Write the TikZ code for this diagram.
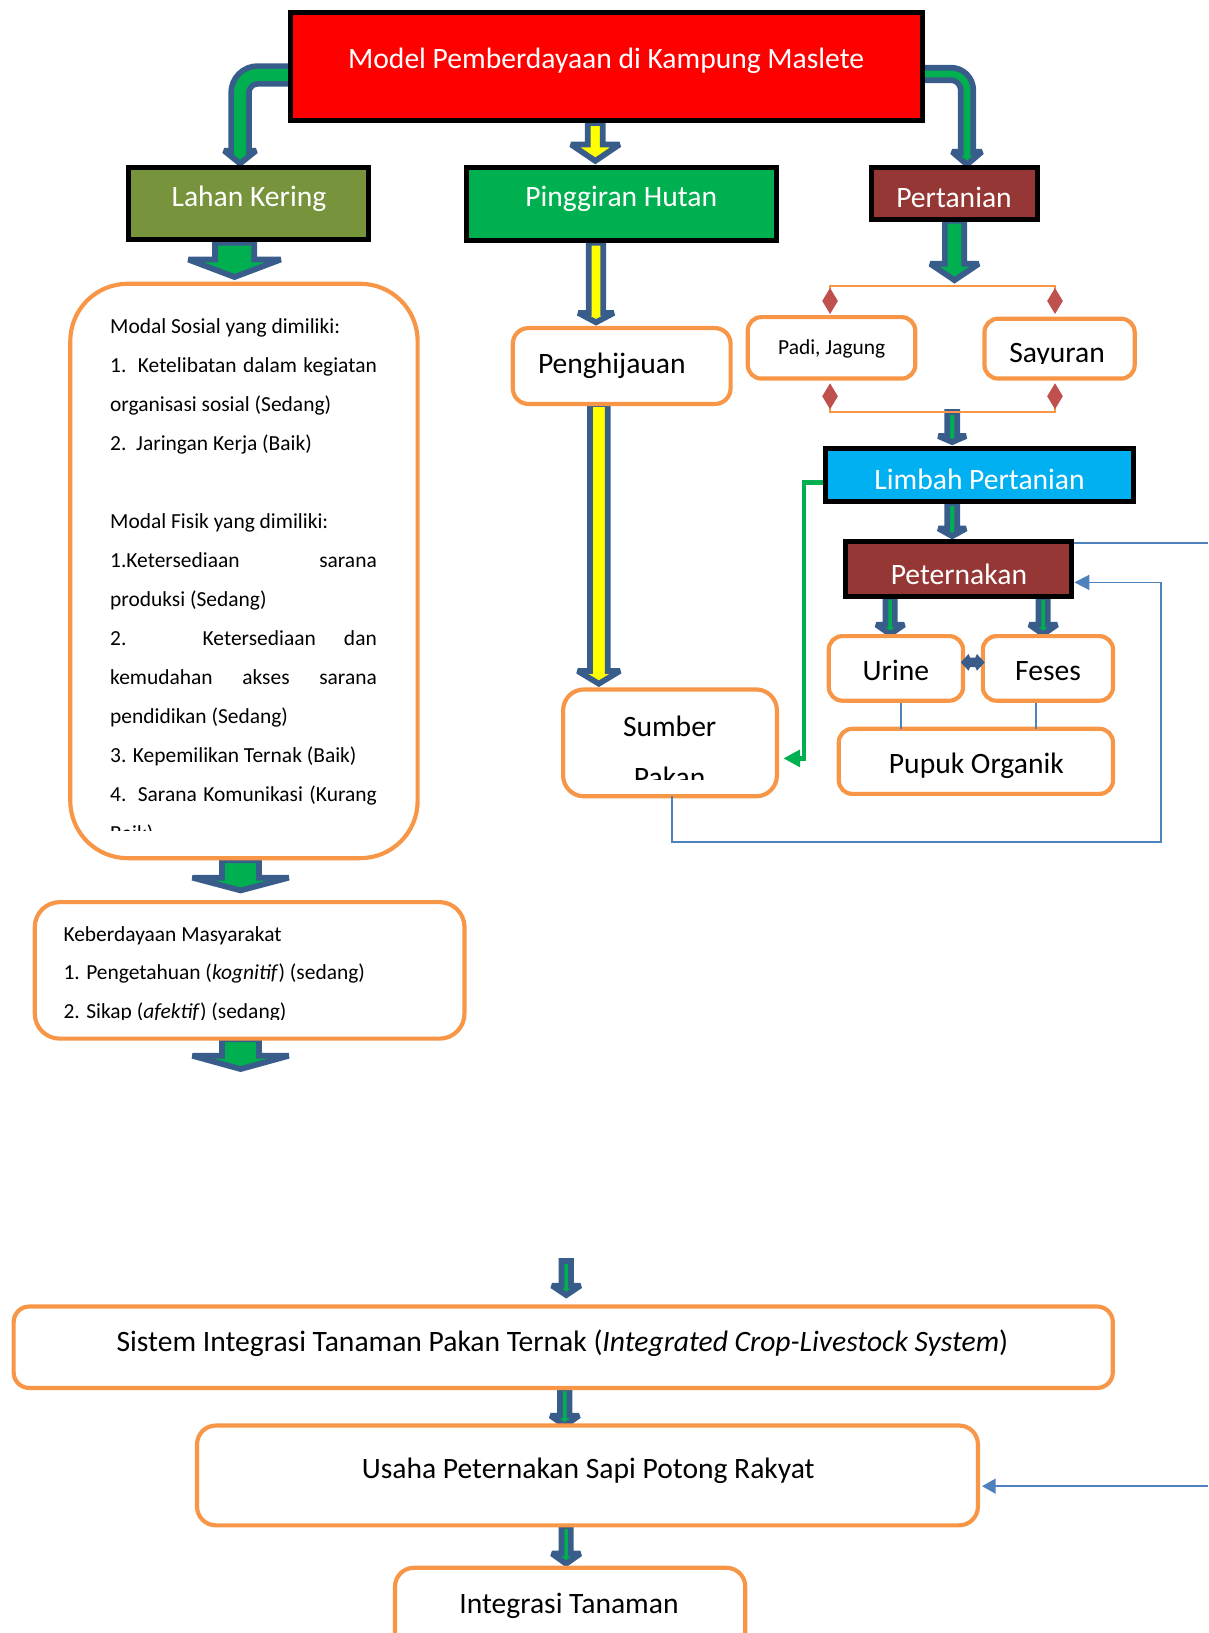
\documentclass[tikz,border=0pt]{standalone}
\usepackage{fontspec}
\setmainfont{Carlito}
\usetikzlibrary{arrows.meta}
\definecolor{titlered}{HTML}{FF0000}
\definecolor{olive}{HTML}{77933C}
\definecolor{fgreen}{HTML}{00B050}
\definecolor{darkred}{HTML}{953735}
\definecolor{cyanbox}{HTML}{00B0F0}
\definecolor{boxorange}{HTML}{F79646}
\definecolor{arrowblue}{HTML}{385D8A}
\definecolor{lineblue}{HTML}{4F81BD}
\definecolor{diared}{HTML}{C0504D}
\definecolor{ayellow}{HTML}{FFFF00}
\newcommand\bigfont{\fontsize{28.4}{34}\selectfont}
\newcommand\smallfont{\fontsize{20.6}{37.45}\selectfont}
% x, top, head base, tip, shaft half, head half, fill
\newcommand\blockarrow[7]{\filldraw[barrow,fill=#7] (#1-#5,#2) -- (#1+#5,#2) -- (#1+#5,#3) -- (#1+#6,#3) -- (#1,#4) -- (#1-#6,#3) -- (#1-#5,#3) -- cycle;}
\newcommand\diamondmark[2]{\fill[diared] (#1,#2-12.5) -- (#1+7.5,#2) -- (#1,#2+12.5) -- (#1-7.5,#2) -- cycle;}
\tikzset{
  barrow/.style={draw=arrowblue, line width=5.5pt, line join=miter, miter limit=2},
  blackbox/.style={draw=black, line width=4.8pt, inner sep=0pt, rectangle},
  obox/.style={draw=boxorange, line width=4pt, fill=white, inner sep=0pt, rectangle},
  wtext/.style={text=white, font=\bigfont, anchor=base, inner sep=0pt},
  btext/.style={text=black, font=\bigfont, anchor=base, inner sep=0pt},
  stext/.style={text=black, font=\smallfont, anchor=base, inner sep=0pt},
  thinblue/.style={draw=lineblue, line width=1.6pt},
  thinorange/.style={draw=boxorange, line width=1.6pt},
  greenlink/.style={draw=fgreen, line width=4.5pt, line join=miter},
}
\begin{document}
\begin{tikzpicture}[x=1pt,y=-1pt]
\useasboundingbox (0,0) rectangle (1160,1568);
\clip (0,0) rectangle (1160,1568);

% ---------- block arrows (behind the boxes) ----------
% bent arrows from the title
\draw[arrowblue, line width=22.5pt, rounded corners=17pt] (282,72) -- (230.5,72) -- (230.5,146);
\blockarrow{230.5}{146}{144.75}{157}{8.5}{15.25}{fgreen}
\draw[fgreen, line width=11.5pt, rounded corners=17pt] (282,72) -- (230.5,72) -- (230.5,149);
\draw[arrowblue, line width=17.5pt, rounded corners=15.5pt] (880,71) -- (928.5,71) -- (928.5,147);
\blockarrow{928.5}{147}{145.75}{158}{6}{14.25}{fgreen}
\draw[fgreen, line width=6.5pt, rounded corners=15.5pt] (880,71) -- (928.5,71) -- (928.5,150);

\blockarrow{571.6}{118}{138.75}{154.5}{7.25}{23.25}{ayellow}
\blockarrow{572.3}{233}{300.5}{309.5}{7}{17}{ayellow}
\blockarrow{575}{388}{644.25}{656.5}{8.45}{20.25}{ayellow}
\blockarrow{225.2}{233}{249.25}{266}{18.85}{44.3}{fgreen}
\blockarrow{916.5}{212}{253.35}{269}{9.25}{23.25}{fgreen}
\blockarrow{231}{826}{842.75}{855}{17.75}{46.25}{fgreen}
\blockarrow{231}{998}{1013.75}{1026.5}{17.75}{46.25}{fgreen}
\blockarrow{914.3}{395.6}{418.75}{424.5}{4.75}{13.25}{fgreen}
\blockarrow{914.3}{483}{507.5}{514.8}{4.75}{13.25}{fgreen}
\blockarrow{854.8}{573}{599.75}{609}{4.45}{13.35}{fgreen}
\blockarrow{1001.7}{573}{599.75}{609}{4.45}{13.35}{fgreen}
\blockarrow{543.7}{1210.75}{1234.45}{1243.5}{4.55}{13.65}{fgreen}
\blockarrow{542.3}{1333}{1359.25}{1369}{4.55}{13.65}{fgreen}
\blockarrow{543.6}{1465.5}{1491.75}{1501.5}{4.55}{13.65}{fgreen}

% green link Limbah -> Sumber Pakan
\coordinate (glstart) at (796,463.5);
\coordinate (glcorner) at (772,463.5);
\coordinate (glend) at (752.2,728.2);
\draw[greenlink, -{Triangle[length=16pt,width=16pt]}] (glstart) -- (glcorner) |- (glend);

% ---------- coloured header boxes ----------
\node[blackbox, fill=titlered, minimum width=607pt, minimum height=104pt] (title) at (582,64) {};
\node[wtext] (titletext) at (582,66) {Model Pemberdayaan di Kampung Maslete};
\node[blackbox, fill=olive, minimum width=230.6pt, minimum height=68.8pt] (lahan) at (238.7,195.2) {};
\node[wtext] (lahantext) at (239,198) {Lahan Kering};
\node[blackbox, fill=fgreen, minimum width=297.4pt, minimum height=69.8pt] (hutan) at (596.9,195.7) {};
\node[wtext] (hutantext) at (596.5,198) {Pinggiran Hutan};
\node[blackbox, fill=darkred, minimum width=159.7pt, minimum height=49.7pt] (pertanian) at (916.2,185.6) {};
\node[wtext] (pertaniantext) at (916,199.5) {Pertanian};
\node[blackbox, fill=cyanbox, minimum width=295pt, minimum height=51.5pt] (limbah) at (940.5,456.1) {};
\node[wtext] (limbahtext) at (940.6,470) {Limbah Pertanian};
\node[blackbox, fill=darkred, minimum width=217.6pt, minimum height=52.5pt] (peternakan) at (920.4,546.5) {};
\node[wtext] (peternakantext) at (920.7,561.5) {Peternakan};

% ---------- orange rounded boxes ----------
\node[obox, rounded corners=55pt, minimum width=333.5pt, minimum height=551.5pt] (modal) at (234.25,548.25) {};
\node[obox, rounded corners=24pt, minimum width=412.6pt, minimum height=131.1pt] (keber) at (239.7,931.75) {};
\node[obox, rounded corners=15pt, minimum width=209.1pt, minimum height=72.9pt] (hijau) at (596.95,351.45) {};
\node[btext] (hijautext) at (587.5,358.9) {Penghijauan};
\node[obox, rounded corners=20pt, minimum width=205.3pt, minimum height=102.6pt] (sumber) at (643.35,713.3) {};
\node[obox, rounded corners=13pt, minimum width=160.8pt, minimum height=59pt] (padi) at (798.4,334) {};
\node[stext] (paditext) at (798.6,340) {Padi, Jagung};
\node[obox, rounded corners=13pt, minimum width=144.2pt, minimum height=57.5pt] (sayur) at (1017.4,334.75) {};
\node[obox, rounded corners=13pt, minimum width=128.9pt, minimum height=62pt] (urine) at (860.25,641.8) {};
\node[btext] (urinetext) at (860.2,653.4) {Urine};
\node[obox, rounded corners=13pt, minimum width=125pt, minimum height=62pt] (feses) at (1006.2,641.8) {};
\node[btext] (fesestext) at (1006.3,653.4) {Feses};
\node[obox, rounded corners=13pt, minimum width=263.3pt, minimum height=62.5pt] (pupuk) at (937.05,731.05) {};
\node[btext] (pupuktext) at (937.5,742.5) {Pupuk Organik};
\node[obox, rounded corners=15pt, minimum width=1055.4pt, minimum height=78.2pt] (sistem) at (540.8,1293.6) {};
\node[btext] (sistemtext) at (540,1297.5) {Sistem Integrasi Tanaman Pakan Ternak (\textit{Integrated Crop-Livestock System})};
\node[obox, rounded corners=18pt, minimum width=749.8pt, minimum height=95.8pt] (usaha) at (564.1,1416.7) {};
\node[btext] (usahatext) at (564.8,1419.3) {Usaha Peternakan Sapi Potong Rakyat};
\node[obox, rounded corners=18pt, minimum width=336.3pt, minimum height=94.6pt] (integ) at (547.45,1552.7) {};
\node[btext] (integtext) at (546.3,1549) {Integrasi Tanaman};

% clipped texts
\begin{scope}
\clip (72,278) rectangle (397,797);
\node[anchor=base west, inner sep=0pt] (modaltext) at (105.6,320.3) {\begin{minipage}[t]{256pt}\smallfont
Modal Sosial yang dimiliki:\\
\makebox[256pt][s]{1. Ketelibatan dalam kegiatan}\\
organisasi sosial (Sedang)\\
2.\ \ Jaringan Kerja (Baik)\\
\mbox{}\\
Modal Fisik yang dimiliki:\\
\makebox[256pt][s]{1.Ketersediaan sarana}\\
produksi (Sedang)\\
\makebox[256pt][s]{2. Ketersediaan dan}\\
\makebox[256pt][s]{kemudahan akses sarana}\\
pendidikan (Sedang)\\
3. Kepemilikan Ternak (Baik)\\
\makebox[256pt][s]{4. Sarana Komunikasi (Kurang}\\
Baik)
\end{minipage}};
\end{scope}
\begin{scope}
\clip (38,870) rectangle (442,978.5);
\node[anchor=base west, inner sep=0pt] (kebertext) at (60.8,903.6) {\begin{minipage}[t]{380pt}\fontsize{20.6}{37.2}\selectfont
Keberdayaan Masyarakat\\
1. Pengetahuan (\textit{kognitif}) (sedang)\\
2. Sikap (\textit{afektif}) (sedang)
\end{minipage}};
\end{scope}
\begin{scope}
\clip (545,665) rectangle (742,748.5);
\node[btext] (sumbertext) at (643,707) {Sumber};
\node[btext] (pakantext) at (643,756) {Pakan};
\end{scope}
\begin{scope}
\clip (948,308) rectangle (1087,348.6);
\node[btext] (sayurtext) at (1015,348.5) {Sayuran};
\end{scope}

% ---------- thin connectors ----------
% orange brackets with diamonds
\coordinate (ot1) at (797,274.3);
\coordinate (ot2) at (1013,274.3);
\coordinate (ob1) at (797,395.3);
\coordinate (ob2) at (1013,395.3);
\draw[thinorange] (797,290) -- (ot1) -- (ot2) -- (1013,290);
\draw[thinorange] (797,380) -- (ob1) -- (ob2) -- (1013,380);
\diamondmark{797}{289}
\diamondmark{1013}{289}
\diamondmark{797}{380.5}
\diamondmark{1013}{380.5}

% Urine / Feses to Pupuk
\draw[thinblue] (865.2,674.8) -- (865.2,699.8);
\draw[thinblue] (994.8,674.8) -- (994.8,699.8);
% double arrow between Urine and Feses
\fill[arrowblue] (922.5,636) -- (930,628) -- (931.5,631.5) -- (936.5,631.5) -- (938,628) -- (945.5,636) -- (938,644) -- (936.5,640.5) -- (931.5,640.5) -- (930,644) -- cycle;

% feedback Sumber Pakan -> Peternakan
\coordinate (fb1) at (645,764.6);
\coordinate (fb2) at (1114.9,808.2);
\coordinate (fbend) at (1031.6,559.2);
\draw[thinblue, -{Triangle[length=14.4pt,width=14.4pt]}] (fb1) -- (645,808.2) -- (fb2) |- (fbend);
% line from Peternakan to the right edge
\coordinate (petr) at (1031.6,521.7);
\coordinate (edge1) at (1160,521.7);
\draw[thinblue] (petr) -- (edge1);
% arrow from the right edge into Usaha
\coordinate (edge2) at (1160,1427);
\coordinate (usahar) at (943,1427);
\draw[thinblue, -{Triangle[length=13pt,width=14.4pt]}] (edge2) -- (usahar);
\end{tikzpicture}
\end{document}
